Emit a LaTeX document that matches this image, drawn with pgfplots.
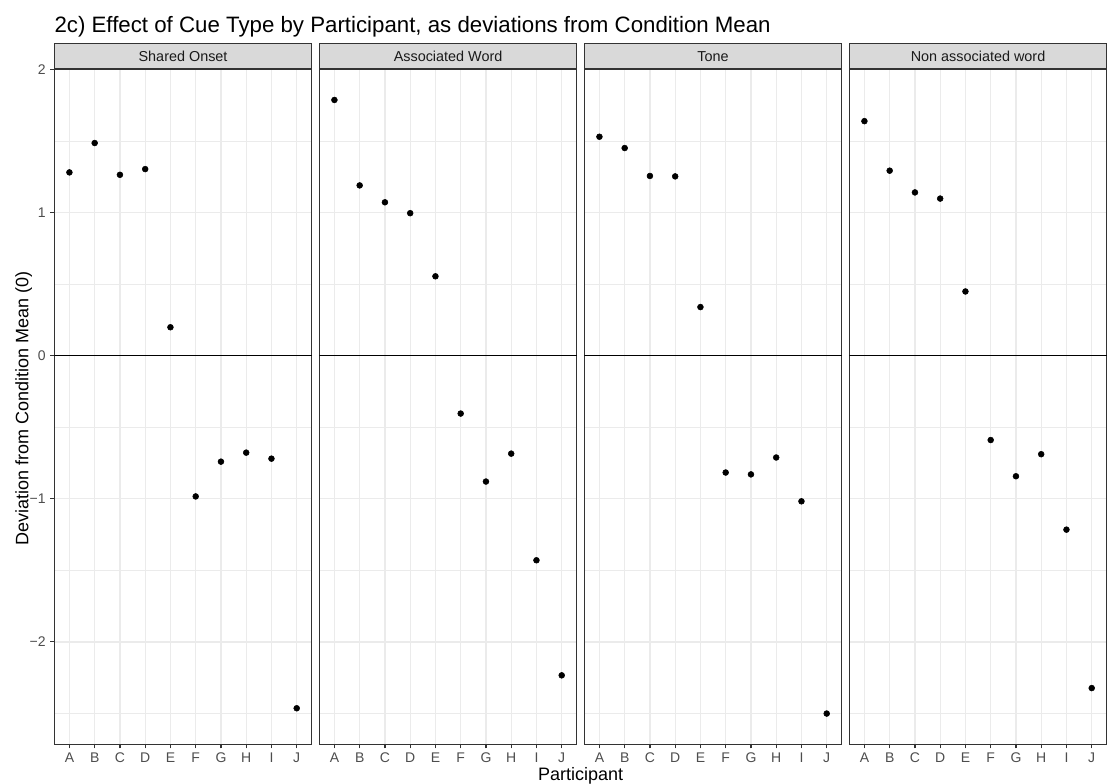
\documentclass[border=0pt]{standalone}
\usepackage{fontspec}
\setmainfont{Liberation Sans}
\usepackage{pgfplots}
\pgfplotsset{compat=1.18}

\definecolor{grey10}{HTML}{1A1A1A}
\definecolor{grey20}{HTML}{333333}
\definecolor{grey30}{HTML}{4D4D4D}
\definecolor{grey85}{HTML}{D9D9D9}
\definecolor{grey92}{HTML}{EBEBEB}

% one facet panel, ggplot theme_bw look
\pgfplotsset{
  facet/.style={
    scale only axis, width=193.2pt, height=506.25pt,
    xmin=0.4, xmax=10.6, ymin=-2.716, ymax=2.0,
    xtick={1,2,3,4,5,6,7,8,9,10},
    xticklabels={A,B,C,D,E,F,G,H,I,J},
    ytick={-2,-1,0,1,2},
    minor ytick={-2.5,-1.5,-0.5,0.5,1.5},
    grid=both,
    major grid style={grey92, line width=1pt},
    minor grid style={grey92, line width=0.5pt},
    minor tick length=0pt, major tick length=3pt,
    tick align=outside, tick pos=left,
    axis line style={grey20, line width=0.9pt},
    tick style={grey20, line width=0.9pt},
    ticklabel style={font=\fontsize{10.5}{12}\selectfont, text=grey30},
    /pgf/number format/assume math mode=true,
    every axis title shift=0pt,
    title style={at={(0.5,1)}, anchor=south, yshift=0pt,
      fill=grey85, draw=grey20, line width=0.9pt,
      minimum width=193.2pt, minimum height=19pt, inner sep=0pt,
      text height=7.8pt, text depth=0pt,
      font=\fontsize{10.8}{12}\selectfont, text=grey10},
  },
  pts/.style={only marks, mark=*, mark size=2.2pt, black},
  zero/.style={black, line width=0.9pt},
  noy/.style={yticklabels={}, ytick style={draw=none}},
}

\begin{document}
\begin{tikzpicture}
\path[use as bounding box] (0,0) rectangle (831pt,587.25pt);

% Shared Onset
\begin{axis}[facet, at={(40.7pt,29pt)}, title={Shared Onset},
  yticklabels={−2,−1,0,1,2}]
\addplot[zero] coordinates {(0.4,0) (10.6,0)};
\addplot[pts] coordinates {
  (1,1.28) (2,1.485) (3,1.263) (4,1.303) (5,0.198)
  (6,-0.984) (7,-0.741) (8,-0.678) (9,-0.72) (10,-2.464)
};
\end{axis}

% Associated Word
\begin{axis}[facet, noy, at={(239.45pt,29pt)}, title={Associated Word}]
\addplot[zero] coordinates {(0.4,0) (10.6,0)};
\addplot[pts] coordinates {
  (1,1.786) (2,1.189) (3,1.071) (4,0.995) (5,0.554)
  (6,-0.405) (7,-0.88) (8,-0.685) (9,-1.43) (10,-2.234)
};
\end{axis}

% Tone
\begin{axis}[facet, noy, at={(438.2pt,29pt)}, title={Tone}]
\addplot[zero] coordinates {(0.4,0) (10.6,0)};
\addplot[pts] coordinates {
  (1,1.529) (2,1.45) (3,1.255) (4,1.252) (5,0.339)
  (6,-0.817) (7,-0.83) (8,-0.712) (9,-1.018) (10,-2.501)
};
\end{axis}

% Non associated word
\begin{axis}[facet, noy, at={(636.95pt,29pt)}, title={Non associated word}]
\addplot[zero] coordinates {(0.4,0) (10.6,0)};
\addplot[pts] coordinates {
  (1,1.638) (2,1.292) (3,1.14) (4,1.097) (5,0.448)
  (6,-0.59) (7,-0.843) (8,-0.689) (9,-1.216) (10,-2.323)
};
\end{axis}

\node[anchor=base west, inner sep=0pt, font=\fontsize{16.7}{19}\selectfont] at (40.7pt,563pt)
  {2c) Effect of Cue Type by Participant, as deviations from Condition Mean};
\node[rotate=90, anchor=base, font=\fontsize{13.5}{16}\selectfont] at (21.2pt,281pt)
  {Deviation from Condition Mean (0)};
\node[anchor=base, font=\fontsize{13.5}{16}\selectfont] at (435.4pt,2.25pt)
  {Participant};
\end{tikzpicture}
\end{document}
